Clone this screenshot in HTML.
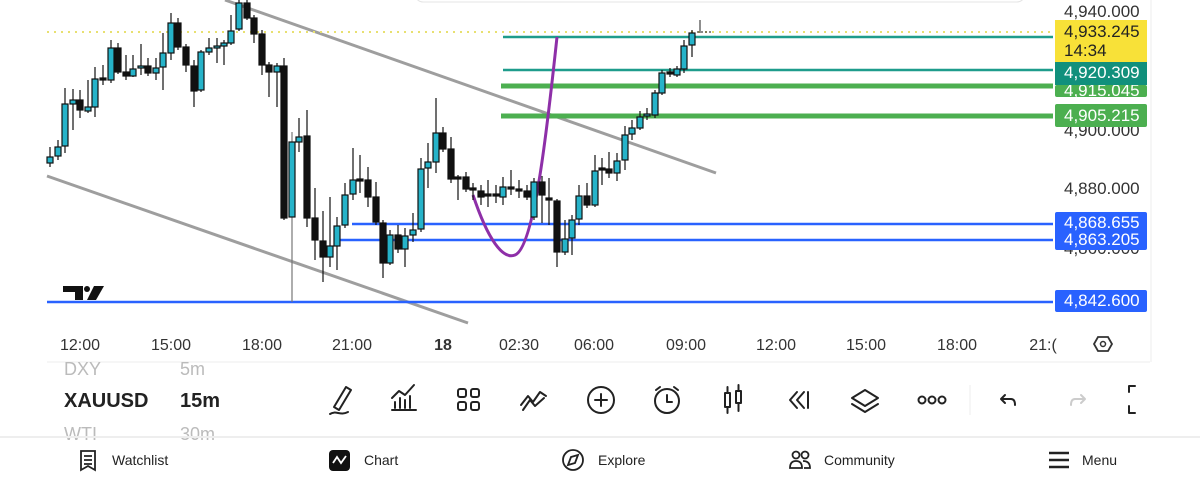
<!DOCTYPE html>
<html><head><meta charset="utf-8"><style>
html,body{margin:0;padding:0;width:1200px;height:485px;overflow:hidden;background:#fff;font-family:"Liberation Sans",sans-serif;}
svg{position:absolute;left:0;top:0}
</style></head><body>
<svg width="1200" height="485" viewBox="0 0 1200 485" xmlns="http://www.w3.org/2000/svg" font-family="Liberation Sans, sans-serif">
<rect x="415" y="-20" width="610" height="22" rx="8" fill="#fff" stroke="#e4e4e4"/>
<line x1="1151" y1="0" x2="1151" y2="362" stroke="#eee"/>
<line x1="225" y1="0" x2="716" y2="173" stroke="#9e9e9e" stroke-width="3"/>
<line x1="47" y1="176" x2="468" y2="323" stroke="#9e9e9e" stroke-width="3"/>
<line x1="47" y1="32" x2="1053" y2="32" stroke="#e8e070" stroke-width="2" stroke-dasharray="2,5"/>
<line x1="503" y1="37" x2="1053" y2="37" stroke="#1e9c8c" stroke-width="2.5"/>
<line x1="503" y1="70" x2="1053" y2="70" stroke="#1e9c8c" stroke-width="2.5"/>
<line x1="501" y1="86" x2="1053" y2="86" stroke="#4caf50" stroke-width="5"/>
<line x1="501" y1="116" x2="1053" y2="116" stroke="#4caf50" stroke-width="5"/>
<line x1="352" y1="224" x2="1053" y2="224" stroke="#2962ff" stroke-width="2.5"/>
<line x1="340" y1="240" x2="1053" y2="240" stroke="#2962ff" stroke-width="2.5"/>
<line x1="47" y1="302" x2="1053" y2="302" stroke="#2962ff" stroke-width="2.5"/>
<path d="M473,195 C488,240 503,260 515,255 C535,247 548,120 557,37" fill="none" stroke="#8e2fa8" stroke-width="3"/>
<g stroke="#111" stroke-width="1.2">
<line x1="50" y1="147" x2="50" y2="167"/><rect x="47" y="157" width="6" height="6" fill="#26b3c9"/>
<line x1="58" y1="140" x2="58" y2="160"/><rect x="55" y="147" width="6" height="9" fill="#26b3c9"/>
<line x1="65" y1="88" x2="65" y2="153"/><rect x="62" y="104" width="6" height="42" fill="#26b3c9"/>
<line x1="73" y1="89" x2="73" y2="130"/><rect x="70" y="100" width="6" height="4" fill="#26b3c9"/>
<line x1="80" y1="90" x2="80" y2="118"/><rect x="77" y="100" width="6" height="10" fill="#111"/>
<line x1="88" y1="80" x2="88" y2="113"/><rect x="85" y="107" width="6" height="4" fill="#26b3c9"/>
<line x1="95" y1="67" x2="95" y2="117"/><rect x="92" y="79" width="6" height="28" fill="#26b3c9"/>
<line x1="103" y1="65" x2="103" y2="85"/><rect x="100" y="78" width="6" height="2" fill="#111"/>
<line x1="111" y1="40" x2="111" y2="83"/><rect x="108" y="48" width="6" height="32" fill="#26b3c9"/>
<line x1="118" y1="43" x2="118" y2="74"/><rect x="115" y="48" width="6" height="24" fill="#111"/>
<line x1="126" y1="55" x2="126" y2="80"/><rect x="123" y="72" width="6" height="4" fill="#111"/>
<line x1="133" y1="55" x2="133" y2="77"/><rect x="130" y="69" width="6" height="7" fill="#26b3c9"/>
<line x1="141" y1="44" x2="141" y2="75"/><rect x="138" y="66" width="6" height="2" fill="#26b3c9"/>
<line x1="148" y1="58" x2="148" y2="76"/><rect x="145" y="66" width="6" height="7" fill="#111"/>
<line x1="156" y1="58" x2="156" y2="80"/><rect x="153" y="68" width="6" height="5" fill="#26b3c9"/>
<line x1="163" y1="33" x2="163" y2="90"/><rect x="160" y="53" width="6" height="14" fill="#26b3c9"/>
<line x1="171" y1="13" x2="171" y2="60"/><rect x="168" y="23" width="6" height="30" fill="#26b3c9"/>
<line x1="178" y1="18" x2="178" y2="50"/><rect x="175" y="23" width="6" height="24" fill="#111"/>
<line x1="186" y1="44" x2="186" y2="72"/><rect x="183" y="47" width="6" height="18" fill="#111"/>
<line x1="194" y1="60" x2="194" y2="107"/><rect x="191" y="66" width="6" height="25" fill="#111"/>
<line x1="201" y1="50" x2="201" y2="92"/><rect x="198" y="52" width="6" height="38" fill="#26b3c9"/>
<line x1="209" y1="38" x2="209" y2="55"/><rect x="206" y="48" width="6" height="4" fill="#26b3c9"/>
<line x1="217" y1="38" x2="217" y2="63"/><rect x="214" y="46" width="6" height="2" fill="#26b3c9"/>
<line x1="224" y1="40" x2="224" y2="65"/><rect x="221" y="43" width="6" height="3" fill="#26b3c9"/>
<line x1="231" y1="15" x2="231" y2="45"/><rect x="228" y="31" width="6" height="12" fill="#26b3c9"/>
<line x1="239" y1="0" x2="239" y2="31"/><rect x="236" y="3" width="6" height="26" fill="#26b3c9"/>
<line x1="247" y1="0" x2="247" y2="20"/><rect x="244" y="3" width="6" height="15" fill="#111"/>
<line x1="254" y1="15" x2="254" y2="43"/><rect x="251" y="18" width="6" height="16" fill="#111"/>
<line x1="262" y1="30" x2="262" y2="75"/><rect x="259" y="34" width="6" height="31" fill="#111"/>
<line x1="269" y1="62" x2="269" y2="97"/><rect x="266" y="65" width="6" height="7" fill="#111"/>
<line x1="277" y1="63" x2="277" y2="107"/><rect x="274" y="66" width="6" height="6" fill="#26b3c9"/>
<line x1="284" y1="58" x2="284" y2="220"/><rect x="281" y="66" width="6" height="152" fill="#111"/>
<line x1="292" y1="132" x2="292" y2="302" stroke="#777"/><rect x="289" y="142" width="6" height="75" fill="#26b3c9"/>
<line x1="299" y1="118" x2="299" y2="152"/><rect x="296" y="137" width="6" height="5" fill="#26b3c9"/>
<line x1="307" y1="110" x2="307" y2="227"/><rect x="304" y="136" width="6" height="82" fill="#111"/>
<line x1="315" y1="188" x2="315" y2="260"/><rect x="312" y="218" width="6" height="22" fill="#111"/>
<line x1="323" y1="211" x2="323" y2="282"/><rect x="320" y="241" width="6" height="16" fill="#111"/>
<line x1="330" y1="197" x2="330" y2="267"/><rect x="327" y="246" width="6" height="11" fill="#26b3c9"/>
<line x1="337" y1="217" x2="337" y2="270"/><rect x="334" y="226" width="6" height="20" fill="#26b3c9"/>
<line x1="345" y1="183" x2="345" y2="228"/><rect x="342" y="195" width="6" height="30" fill="#26b3c9"/>
<line x1="353" y1="148" x2="353" y2="200"/><rect x="350" y="180" width="6" height="14" fill="#26b3c9"/>
<line x1="360" y1="155" x2="360" y2="193"/><rect x="357" y="179" width="6" height="2" fill="#111"/>
<line x1="368" y1="167" x2="368" y2="207"/><rect x="365" y="180" width="6" height="17" fill="#111"/>
<line x1="376" y1="182" x2="376" y2="225"/><rect x="373" y="197" width="6" height="25" fill="#111"/>
<line x1="383" y1="220" x2="383" y2="278"/><rect x="380" y="223" width="6" height="40" fill="#111"/>
<line x1="390" y1="230" x2="390" y2="265"/><rect x="387" y="235" width="6" height="28" fill="#26b3c9"/>
<line x1="398" y1="225" x2="398" y2="253"/><rect x="395" y="235" width="6" height="14" fill="#111"/>
<line x1="405" y1="228" x2="405" y2="267"/><rect x="402" y="236" width="6" height="13" fill="#26b3c9"/>
<line x1="413" y1="213" x2="413" y2="242"/><rect x="410" y="230" width="6" height="5" fill="#26b3c9"/>
<line x1="421" y1="158" x2="421" y2="232"/><rect x="418" y="169" width="6" height="60" fill="#26b3c9"/>
<line x1="428" y1="143" x2="428" y2="188"/><rect x="425" y="162" width="6" height="6" fill="#26b3c9"/>
<line x1="436" y1="98" x2="436" y2="173"/><rect x="433" y="133" width="6" height="29" fill="#26b3c9"/>
<line x1="443" y1="127" x2="443" y2="152"/><rect x="440" y="133" width="6" height="16" fill="#111"/>
<line x1="451" y1="137" x2="451" y2="183"/><rect x="448" y="149" width="6" height="30" fill="#111"/>
<line x1="458" y1="175" x2="458" y2="200"/><rect x="455" y="177" width="6" height="2" fill="#111"/>
<line x1="466" y1="172" x2="466" y2="192"/><rect x="463" y="177" width="6" height="12" fill="#111"/>
<line x1="473" y1="183" x2="473" y2="200"/><rect x="470" y="188" width="6" height="2" fill="#111"/>
<line x1="481" y1="185" x2="481" y2="205"/><rect x="478" y="191" width="6" height="6" fill="#111"/>
<line x1="488" y1="180" x2="488" y2="207"/><rect x="485" y="194" width="6" height="2" fill="#111"/>
<line x1="496" y1="185" x2="496" y2="203"/><rect x="493" y="194" width="6" height="2" fill="#111"/>
<line x1="503" y1="177" x2="503" y2="205"/><rect x="500" y="187" width="6" height="10" fill="#26b3c9"/>
<line x1="511" y1="170" x2="511" y2="195"/><rect x="508" y="187" width="6" height="2" fill="#111"/>
<line x1="519" y1="180" x2="519" y2="198"/><rect x="516" y="189" width="6" height="2" fill="#111"/>
<line x1="527" y1="185" x2="527" y2="200"/><rect x="524" y="191" width="6" height="6" fill="#111"/>
<line x1="534" y1="178" x2="534" y2="220"/><rect x="531" y="182" width="6" height="35" fill="#26b3c9"/>
<line x1="542" y1="176" x2="542" y2="223"/><rect x="539" y="182" width="6" height="13" fill="#111"/>
<line x1="549" y1="178" x2="549" y2="225"/><rect x="546" y="198" width="6" height="2" fill="#111"/>
<line x1="557" y1="199" x2="557" y2="267"/><rect x="554" y="201" width="6" height="51" fill="#111"/>
<line x1="565" y1="220" x2="565" y2="255"/><rect x="562" y="239" width="6" height="13" fill="#26b3c9"/>
<line x1="572" y1="215" x2="572" y2="255"/><rect x="569" y="220" width="6" height="18" fill="#26b3c9"/>
<line x1="579" y1="185" x2="579" y2="225"/><rect x="576" y="196" width="6" height="23" fill="#26b3c9"/>
<line x1="587" y1="183" x2="587" y2="208"/><rect x="584" y="196" width="6" height="9" fill="#111"/>
<line x1="595" y1="155" x2="595" y2="207"/><rect x="592" y="171" width="6" height="34" fill="#26b3c9"/>
<line x1="602" y1="158" x2="602" y2="185"/><rect x="599" y="168" width="6" height="2" fill="#111"/>
<line x1="609" y1="152" x2="609" y2="178"/><rect x="606" y="169" width="6" height="4" fill="#111"/>
<line x1="617" y1="153" x2="617" y2="181"/><rect x="614" y="161" width="6" height="12" fill="#26b3c9"/>
<line x1="625" y1="126" x2="625" y2="170"/><rect x="622" y="135" width="6" height="25" fill="#26b3c9"/>
<line x1="632" y1="120" x2="632" y2="140"/><rect x="629" y="128" width="6" height="6" fill="#26b3c9"/>
<line x1="640" y1="111" x2="640" y2="130"/><rect x="637" y="117" width="6" height="11" fill="#26b3c9"/>
<line x1="647" y1="108" x2="647" y2="120"/><rect x="644" y="114" width="6" height="2" fill="#26b3c9"/>
<line x1="655" y1="90" x2="655" y2="118"/><rect x="652" y="93" width="6" height="22" fill="#26b3c9"/>
<line x1="662" y1="70" x2="662" y2="95"/><rect x="659" y="73" width="6" height="20" fill="#26b3c9"/>
<line x1="670" y1="68" x2="670" y2="77"/><rect x="667" y="72" width="6" height="2" fill="#111"/>
<line x1="677" y1="66" x2="677" y2="77"/><rect x="674" y="69" width="6" height="6" fill="#26b3c9"/>
<line x1="684" y1="40" x2="684" y2="73"/><rect x="681" y="46" width="6" height="23" fill="#26b3c9"/>
<line x1="692" y1="30" x2="692" y2="57"/><rect x="689" y="33" width="6" height="12" fill="#26b3c9"/>
<line x1="700" y1="20" x2="700" y2="33" stroke="#444"/><line x1="697" y1="32" x2="712" y2="32" stroke="#444" stroke-dasharray="2,2"/>
</g>
<path d="M63,286 H83 V300 H75 V292 H63 Z" fill="#111"/><circle cx="87" cy="289" r="3" fill="#111"/><path d="M94,286 H104 L96,300 H87 Z" fill="#111"/>
<g font-size="17" fill="#333">
<text x="1064" y="17">4,940.000</text>
<text x="1064" y="136">4,900.000</text>
<text x="1064" y="194">4,880.000</text>
<text x="1064" y="254">4,860.000</text>
</g>
<rect x="1055" y="20" width="92" height="42" fill="#f8e138"/>
<text x="1064" y="37" font-size="17" fill="#222">4,933.245</text>
<text x="1064" y="56" font-size="17" fill="#222">14:34</text>
<rect x="1055" y="85" width="92" height="12" rx="2" fill="#4caf50"/>
<text x="1064" y="96" font-size="17" fill="#fff">4,915.045</text>
<rect x="1055" y="62" width="92" height="23" fill="#11907c"/>
<text x="1064" y="78" font-size="17" fill="#fff">4,920.309</text>
<rect x="1055" y="104" width="92" height="23" rx="2" fill="#4caf50"/>
<text x="1064" y="121" font-size="17" fill="#fff">4,905.215</text>
<rect x="1055" y="212" width="92" height="38" rx="2" fill="#2962ff"/>
<text x="1064" y="228" font-size="17" fill="#fff">4,868.655</text>
<text x="1064" y="245" font-size="17" fill="#fff">4,863.205</text>
<rect x="1055" y="290" width="92" height="22" rx="2" fill="#2962ff"/>
<text x="1064" y="306" font-size="17" fill="#fff">4,842.600</text>
<g font-size="16" fill="#333" text-anchor="middle">
<text x="80" y="350">12:00</text><text x="171" y="350">15:00</text><text x="262" y="350">18:00</text><text x="352" y="350">21:00</text>
<text x="443" y="350" font-weight="bold">18</text><text x="519" y="350">02:30</text><text x="594" y="350">06:00</text><text x="686" y="350">09:00</text>
<text x="776" y="350">12:00</text><text x="866" y="350">15:00</text><text x="957" y="350">18:00</text><text x="1043" y="350">21:(</text>
</g>
<path d="M1098,337 L1108,337 L1112,344 L1108,351 L1098,351 L1094,344 Z" fill="none" stroke="#333" stroke-width="1.8"/><circle cx="1103" cy="344" r="2.5" fill="none" stroke="#333" stroke-width="1.5"/>
<line x1="47" y1="362" x2="1150" y2="362" stroke="#eee"/>
<text x="64" y="375" font-size="18" fill="#bbb">DXY</text><text x="180" y="375" font-size="18" fill="#bbb">5m</text>
<text x="64" y="407" font-size="20" font-weight="bold" fill="#222">XAUUSD</text><text x="180" y="407" font-size="20" font-weight="bold" fill="#222">15m</text>
<text x="64" y="440" font-size="18" fill="#bbb">WTI</text><text x="180" y="440" font-size="18" fill="#bbb">30m</text>
<g fill="none" stroke="#222" stroke-width="2" stroke-linecap="round" stroke-linejoin="round">
<path d="M334,407 L346,387 L351,390 L339,410 Z M330,414 C336,410 340,416 348,412"/>
<path d="M392,410 H416 M395,408 V402 M400,408 V398 M405,408 V400 M410,408 V396 M392,398 L399,391 L405,395 L414,385"/>
<rect x="458" y="389" width="8" height="8" rx="2"/><rect x="471" y="389" width="8" height="8" rx="2"/><rect x="458" y="402" width="8" height="8" rx="2"/><rect x="471" y="402" width="8" height="8" rx="2"/>
<path d="M521,405 L528,396 L533,402 L540,392 L546,396 M523,410 L530,400 L535,406 L544,398"/>
<circle cx="601" cy="400" r="13"/><path d="M601,394 V406 M595,400 H607"/>
<circle cx="667" cy="401" r="12"/><path d="M667,395 V402 H672 M656,390 L660,387 M678,390 L674,387"/>
<rect x="725" y="393" width="5" height="14"/><path d="M727.5,387 V393 M727.5,407 V413"/><rect x="736" y="391" width="5" height="12"/><path d="M738.5,385 V391 M738.5,403 V411"/>
<path d="M797,392 L790,400 L797,408 M804,392 L797,400 L804,408 M808,392 V408"/>
<path d="M852,398 L865,390 L878,398 L865,406 Z M852,404 L865,412 L878,404"/>
<circle cx="922" cy="400" r="3.5"/><circle cx="932" cy="400" r="3.5"/><circle cx="942" cy="400" r="3.5"/>
<path d="M1005,395 L1001,399 L1005,403 M1001,399 H1011 Q1015,399 1015,405"/>
<path d="M1081,395 L1085,399 L1081,403 M1085,399 H1075 Q1071,399 1071,405" stroke="#ccc"/>
<path d="M1135,386 H1129 V392 M1129,406 V413 H1135"/>
</g>
<line x1="970" y1="385" x2="970" y2="415" stroke="#eee"/>
<line x1="0" y1="437" x2="1200" y2="437" stroke="#eee" stroke-width="2"/>
<g fill="none" stroke="#222" stroke-width="1.8">
<path d="M81,451 H95 V470 L88,466 L81,470 Z M84,456 H92 M84,460 H92 M84,464 H92"/>
<circle cx="573" cy="460" r="10"/><path d="M568,465 L571,457 L578,455 L575,463 Z"/>
<circle cx="796" cy="455" r="3.5"/><circle cx="805" cy="455" r="3.5"/><path d="M790,468 Q790,461 796,461 Q802,461 802,468 Z M803,461 Q810,461 810,468 H804"/>
<path d="M1049,453 H1069 M1049,460 H1069 M1049,467 H1069" stroke-width="2.5"/>
</g>
<rect x="329" y="450" width="21" height="21" rx="4" fill="#111"/><path d="M333,463 L337,457 L341,463 L346,456" fill="none" stroke="#fff" stroke-width="1.8"/>
<g font-size="14" fill="#222">
<text x="112" y="465">Watchlist</text><text x="364" y="465">Chart</text><text x="598" y="465">Explore</text><text x="824" y="465">Community</text><text x="1082" y="465">Menu</text>
</g>
</svg>
</body></html>
